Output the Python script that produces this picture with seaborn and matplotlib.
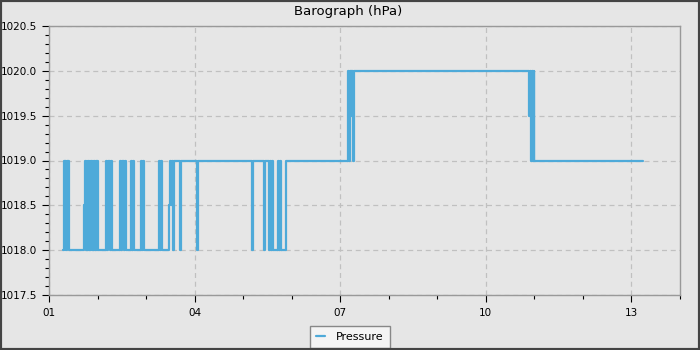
import matplotlib
matplotlib.use("Agg")
import matplotlib.pyplot as plt
import matplotlib.dates as mdates
from matplotlib.patches import Rectangle
from matplotlib.ticker import MultipleLocator, FormatStrFormatter
import pandas as pd
import seaborn as sns

# Time offsets (days after day 01 00:00) and pressure (hPa), step series
day_offsets = [
    0.288, 0.308, 0.329, 0.339, 0.360, 0.370, 0.390, 0.401, 0.411,
    0.719, 0.740, 0.760, 0.775, 0.791, 0.807, 0.822, 0.836, 0.853, 0.867,
    0.884, 0.900, 0.916, 0.933, 0.949, 0.966, 0.982, 0.999, 1.017,
    1.171, 1.192, 1.212, 1.253, 1.274, 1.305,
    1.459, 1.479, 1.500, 1.541, 1.562, 1.592,
    1.685, 1.705, 1.726, 1.746,
    1.890, 1.911, 1.931, 1.952,
    2.260, 2.281, 2.301, 2.322,
    2.476, 2.496, 2.517, 2.538, 2.558, 2.579,
    2.692, 2.722,
    3.051, 3.072,
    4.181, 4.212, 4.438, 4.459,
    4.541, 4.562, 4.582, 4.603, 4.623,
    4.716, 4.736, 4.757, 4.777, 4.880,
    6.164, 6.185, 6.205, 6.219, 6.232, 6.267, 6.287,
    9.883, 9.904, 9.924, 9.945, 9.965, 9.986, 9.996,
    12.246,
]
pressure = [
    1018.0, 1019.0, 1018.0, 1019.0, 1018.0, 1019.0, 1018.5, 1019.0, 1018.0,
    1018.5, 1019.0, 1018.0, 1019.0, 1018.0, 1019.0, 1018.0, 1019.0, 1018.0, 1019.0,
    1018.0, 1019.0, 1018.0, 1019.0, 1018.0, 1019.0, 1018.0, 1019.0, 1018.0,
    1019.0, 1018.0, 1019.0, 1018.0, 1019.0, 1018.0,
    1019.0, 1018.0, 1019.0, 1018.0, 1019.0, 1018.0,
    1019.0, 1018.0, 1019.0, 1018.0,
    1019.0, 1018.0, 1019.0, 1018.0,
    1019.0, 1018.0, 1019.0, 1018.0,
    1018.5, 1019.0, 1018.5, 1019.0, 1018.0, 1019.0,
    1018.0, 1019.0,
    1018.0, 1019.0,
    1018.0, 1019.0, 1018.0, 1019.0,
    1018.0, 1019.0, 1018.0, 1019.0, 1018.0,
    1019.0, 1018.0, 1019.0, 1018.0, 1019.0,
    1020.0, 1019.0, 1020.0, 1019.5, 1020.0, 1019.0, 1020.0,
    1019.5, 1020.0, 1019.0, 1020.0, 1019.0, 1020.0, 1019.0,
    1019.0,
]
start_date = "2024-01-01"
day_ticks = [1, 4, 7, 10, 13]
series_name = "Pressure"
title = "Barograph (hPa)"

df = pd.DataFrame({
    "time": pd.Timestamp(start_date) + pd.to_timedelta(day_offsets, unit="D"),
    series_name: pressure,
})

sns.set_style("white")
plt.rcParams["font.family"] = ["DejaVu Sans"]
plt.rcParams["text.color"] = "black"
plt.rcParams["xtick.color"] = "black"
plt.rcParams["ytick.color"] = "black"
plt.rcParams["xtick.labelcolor"] = "black"
plt.rcParams["ytick.labelcolor"] = "black"

bg = "#e6e6e6"
fig = plt.figure(figsize=(7, 3.5), dpi=100, facecolor=bg)
ax = fig.add_axes([49 / 700, 1 - 295 / 350, (680 - 49) / 700, (295 - 26) / 350])
ax.set_facecolor(bg)

sns.lineplot(data=df, x="time", y=series_name, ax=ax, drawstyle="steps-post",
             color="#4eaad9", linewidth=1.6, label=series_name, legend=False)

ax.set_xlim(pd.Timestamp(start_date), pd.Timestamp(start_date) + pd.Timedelta(days=13))
ax.set_ylim(1017.5, 1020.5)
ax.xaxis.set_major_locator(mdates.DayLocator(bymonthday=day_ticks))
ax.xaxis.set_minor_locator(mdates.DayLocator())
ax.xaxis.set_major_formatter(mdates.DateFormatter("%d"))
ax.yaxis.set_major_locator(MultipleLocator(0.5))
ax.yaxis.set_minor_locator(MultipleLocator(0.1))
ax.yaxis.set_major_formatter(FormatStrFormatter("%.1f"))

ax.set_xlabel("")
ax.set_ylabel("")
ax.grid(True, which="major", color="#c0c0c0", linestyle=(0, (4, 3)), linewidth=0.9)
for s in ax.spines.values():
    s.set_color("#999999")
    s.set_linewidth(1.0)
ax.tick_params(axis="both", which="major", length=5, width=0.8, colors="black",
               labelsize=7.5, direction="out", bottom=True, left=True)
ax.tick_params(axis="both", which="minor", length=3, width=0.8, colors="black",
               direction="out", bottom=True, left=True)
ax.tick_params(axis="x", pad=4)

fig.text(0.497, 1 - 12 / 350, title, ha="center", va="center", fontsize=9.5,
         color="black")

handles, labels = ax.get_legend_handles_labels()
leg = fig.legend(handles, labels, loc="lower center", bbox_to_anchor=(0.5, 0.0),
                 fontsize=8, frameon=True, fancybox=False, handlelength=0.8,
                 borderpad=0.55, borderaxespad=0.15, handletextpad=1.0)
leg.get_frame().set_edgecolor("#888888")
leg.get_frame().set_facecolor("#f4f4f4")
leg.get_frame().set_alpha(1.0)
for t in leg.get_texts():
    t.set_color("black")

fig.patches.append(Rectangle((0, 0), 1, 1, transform=fig.transFigure, fill=False,
                             edgecolor="#444444", linewidth=3, zorder=10))

fig.savefig("out.png", dpi=100, facecolor=bg)
